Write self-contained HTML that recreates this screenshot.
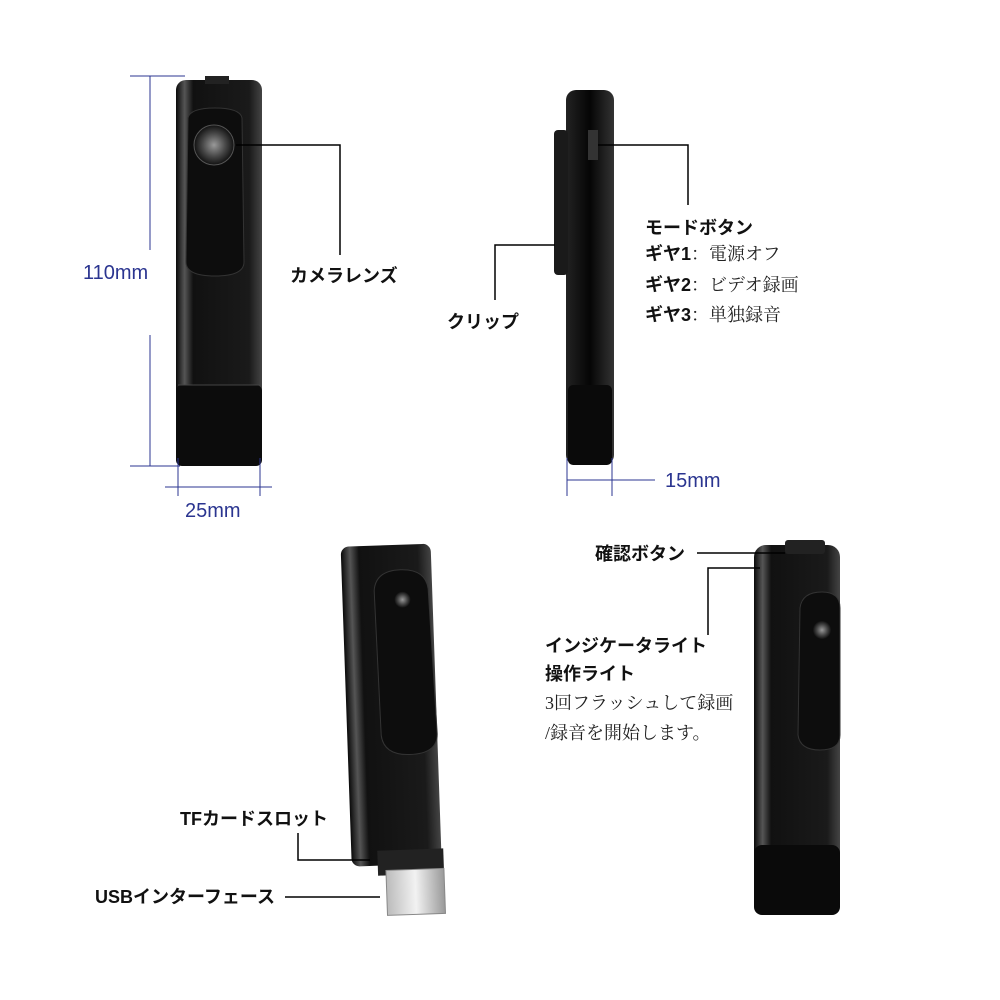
<!DOCTYPE html>
<html><head><meta charset="utf-8"><style>
html,body{margin:0;padding:0;background:#fff;}
svg{display:block;}
.jp{font-family:"Liberation Sans","Noto Sans CJK JP",sans-serif;font-weight:bold;font-size:18px;fill:#111;}
.jpr{font-family:"Liberation Serif","Noto Serif CJK SC",serif;font-size:18px;fill:#222;}
.dim{font-family:"Liberation Sans",sans-serif;font-size:20px;fill:#2b3590;}
</style></head><body>
<svg width="1000" height="1000" viewBox="0 0 1000 1000" xmlns="http://www.w3.org/2000/svg">
<defs>
<linearGradient id="g1" x1="0" x2="1" y1="0" y2="0">
<stop offset="0" stop-color="#0a0a0a"/><stop offset="0.1" stop-color="#555"/><stop offset="0.2" stop-color="#111"/><stop offset="0.85" stop-color="#1a1a1a"/><stop offset="1" stop-color="#444"/></linearGradient>
<linearGradient id="g2" x1="0" x2="1" y1="0" y2="0">
<stop offset="0" stop-color="#222"/><stop offset="0.5" stop-color="#050505"/><stop offset="1" stop-color="#333"/></linearGradient>
<linearGradient id="usb" x1="0" x2="1"><stop offset="0" stop-color="#bbb"/><stop offset="0.5" stop-color="#f2f2f2"/><stop offset="1" stop-color="#999"/></linearGradient>
<radialGradient id="lens"><stop offset="0" stop-color="#999"/><stop offset="0.6" stop-color="#444"/><stop offset="1" stop-color="#111"/></radialGradient>
</defs>

<!-- top-left device -->
<rect x="176" y="80" width="86" height="386" rx="10" fill="url(#g1)"/>
<rect x="205" y="76" width="24" height="8" fill="#222"/>
<rect x="176" y="385" width="86" height="81" rx="6" fill="#0c0c0c"/>
<line x1="178" y1="385" x2="260" y2="385" stroke="#444"/>
<path d="M188 118 Q190 108 215 108 Q240 108 242 118 L244 262 Q244 276 215 276 Q186 276 186 262 Z" fill="#0d0d0d" stroke="#333"/>
<circle cx="214" cy="145" r="20" fill="url(#lens)" stroke="#555"/>
<polyline points="236,145 340,145 340,255" fill="none" stroke="#000" stroke-width="1.5"/>
<text x="290" y="282" class="jp">カメラレンズ</text>

<!-- dims top-left -->
<g stroke="#2b3590" stroke-width="1">
<line x1="130" y1="76" x2="185" y2="76"/><line x1="130" y1="466" x2="180" y2="466"/>
<line x1="150" y1="76" x2="150" y2="250"/><line x1="150" y1="335" x2="150" y2="466"/>
<line x1="178" y1="458" x2="178" y2="496"/><line x1="260" y1="458" x2="260" y2="496"/>
<line x1="165" y1="487" x2="272" y2="487"/>
</g>
<text x="83" y="279" class="dim">110mm</text>
<text x="185" y="517" class="dim">25mm</text>

<!-- top-right device -->
<rect x="566" y="90" width="48" height="375" rx="10" fill="url(#g2)"/>
<rect x="568" y="385" width="44" height="80" rx="5" fill="#0a0a0a"/>
<rect x="554" y="130" width="14" height="145" rx="4" fill="#1a1a1a"/>
<rect x="588" y="130" width="10" height="30" fill="#333"/>
<polyline points="598,145 688,145 688,205" fill="none" stroke="#000" stroke-width="1.5"/>
<polyline points="555,245 495,245 495,300" fill="none" stroke="#000" stroke-width="1.5"/>
<text x="645" y="234" class="jp">モードボタン</text>
<text x="645" y="260" class="jp">ギヤ1<tspan class="jpr" style="font-weight:normal">：電源オフ</tspan></text>
<text x="645" y="291" class="jp">ギヤ2<tspan class="jpr" style="font-weight:normal">：ビデオ録画</tspan></text>
<text x="645" y="321" class="jp">ギヤ3<tspan class="jpr" style="font-weight:normal">：単独録音</tspan></text>
<text x="447" y="328" class="jp">クリップ</text>
<g stroke="#2b3590" stroke-width="1">
<line x1="567" y1="458" x2="567" y2="496"/><line x1="612" y1="458" x2="612" y2="496"/>
<line x1="567" y1="480" x2="655" y2="480"/>
</g>
<text x="665" y="487" class="dim">15mm</text>

<!-- bottom-left device -->
<g transform="rotate(-2 395 700)">
<rect x="346" y="545" width="90" height="320" rx="8" fill="url(#g1)"/>
<path d="M378 590 Q380 570 405 570 Q430 570 432 590 L436 735 Q436 755 408 755 Q382 755 380 735 Z" fill="#0d0d0d" stroke="#333"/>
<circle cx="406" cy="600" r="8" fill="url(#lens)"/>
<rect x="372" y="850" width="66" height="25" fill="#222"/>
<rect x="380" y="870" width="58" height="45" fill="url(#usb)" stroke="#888"/>
</g>
<polyline points="298,833 298,860 370,860" fill="none" stroke="#000" stroke-width="1.5"/>
<line x1="285" y1="897" x2="380" y2="897" stroke="#000" stroke-width="1.5"/>
<text x="180" y="825" class="jp">TFカードスロット</text>
<text x="95" y="903" class="jp">USBインターフェース</text>

<!-- bottom-right device -->
<rect x="754" y="545" width="86" height="370" rx="12" fill="url(#g1)"/>
<rect x="785" y="540" width="40" height="14" rx="3" fill="#222"/>
<path d="M800 608 Q802 592 822 592 Q840 592 840 608 L840 735 Q840 750 820 750 Q800 750 798 735 Z" fill="#0d0d0d" stroke="#333"/>
<circle cx="822" cy="630" r="9" fill="url(#lens)"/>
<rect x="754" y="845" width="86" height="70" rx="8" fill="#0a0a0a"/>
<line x1="697" y1="553" x2="785" y2="553" stroke="#000" stroke-width="1.5"/>
<polyline points="760,568 708,568 708,635" fill="none" stroke="#000" stroke-width="1.5"/>
<text x="595" y="560" class="jp">確認ボタン</text>
<text x="545" y="652" class="jp">インジケータライト</text>
<text x="545" y="680" class="jp">操作ライト</text>
<text x="545" y="709" class="jpr">3回フラッシュして録画</text>
<text x="545" y="739" class="jpr">/録音を開始します。</text>
</svg>
</body></html>
